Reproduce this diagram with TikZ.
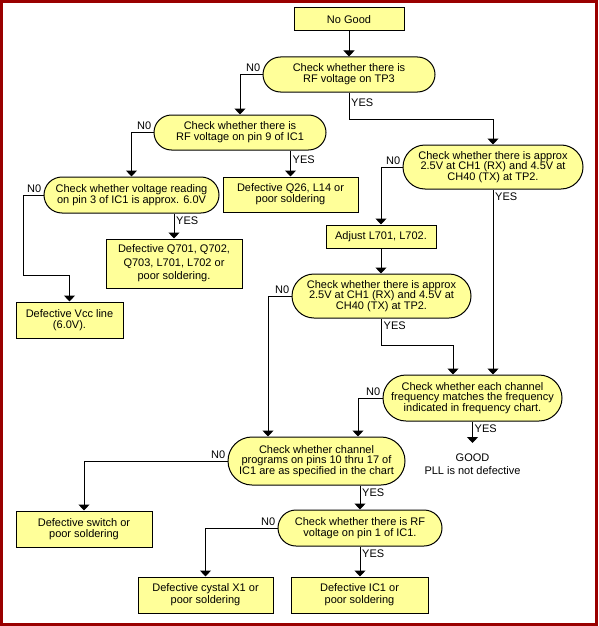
\documentclass[tikz,border=0pt]{standalone}
\usepackage{fontspec}
\setmainfont{Liberation Sans}
\usepackage{tikz}
\usetikzlibrary{shapes.misc, arrows.meta}
\definecolor{boxfill}{RGB}{255,255,153}
\definecolor{framered}{RGB}{153,0,0}

\begin{document}
\begin{tikzpicture}[
        x=1pt, y=-1pt,
        every node/.style={font=\fontsize{11}{11}\selectfont},
        check/.style={rounded rectangle, draw=black, line width=1pt, fill=boxfill, align=center, inner sep=0pt},
        % three-line checks are set a little tighter
        checklong/.style={check, font=\fontsize{11}{10.7}\selectfont},
        fault/.style={rectangle, draw=black, line width=1pt, fill=boxfill, align=center, inner sep=0pt},
        nolabel/.style={anchor=south east, inner xsep=2pt, inner ysep=2.5pt},
        yeslabel/.style={anchor=north west, inner xsep=2pt, inner ysep=3pt},
        arrow/.style={line width=1pt, -{Triangle[width=11pt,length=6pt]}}
    ]

    \fill[white] (0,0) rectangle (598,626);
    \useasboundingbox (0,0) rectangle (598,626);

    % Nodes
    \node (nogood) [fault, minimum width=110pt, minimum height=23pt] at (349,19.5) {No Good};
    \node (rfTP3) [check, minimum width=172pt, minimum height=35pt] at (349,74.5) {Check whether there is\\RF voltage on TP3};
    \node (rfPin9) [check, minimum width=172pt, minimum height=35pt] at (240,132.5) {Check whether there is\\RF voltage on pin 9 of IC1};
    \node (vPin3) [check, minimum width=175pt, minimum height=36pt] at (131.5,195) {Check whether voltage reading\\on pin 3 of IC1 is approx. 6.0V};
    \node (defQ26) [fault, minimum width=135pt, minimum height=35pt] at (290.5,194.5) {Defective Q26, L14 or\\poor soldering};
    \node (defQ701) [fault, minimum width=136pt, minimum height=49pt, font=\fontsize{11}{13.5}\selectfont] at (174,263.5) {Defective Q701, Q702,\\Q703, L701, L702 or\\poor soldering.};
    \node (defVcc) [fault, minimum width=107pt, minimum height=36pt] at (69.5,320) {Defective Vcc line\\(6.0V).};
    \node (tp2First) [checklong, minimum width=180pt, minimum height=44pt] at (493,167) {Check whether there is approx\\2.5V at CH1 (RX) and 4.5V at\\CH40 (TX) at TP2.};
    \node (adjust) [fault, minimum width=110pt, minimum height=23pt] at (381,236.5) {Adjust L701, L702.};
    \node (tp2Again) [checklong, minimum width=179pt, minimum height=44pt] at (381.5,296) {Check whether there is approx\\2.5V at CH1 (RX) and 4.5V at\\CH40 (TX) at TP2.};
    \node (freq) [checklong, minimum width=179pt, minimum height=46pt] at (472.5,398) {Check whether each channel\\frequency matches the frequency\\indicated in frequency chart.};
    \node (good) [anchor=north, inner sep=1pt, align=center, font=\fontsize{11}{12.5}\selectfont] at (472.5,453) {GOOD\\PLL is not defective};
    \node (prog) [checklong, minimum width=177pt, minimum height=48pt] at (316.5,461) {Check whether channel\\programs on pins 10 thru 17 of\\IC1 are as specified in the chart};
    \node (defSwitch) [fault, minimum width=136pt, minimum height=36pt] at (84,529) {Defective switch or\\poor soldering};
    \node (rfPin1) [check, minimum width=164pt, minimum height=36pt] at (360,528) {Check whether there is RF\\voltage on pin 1 of IC1.};
    \node (defX1) [fault, minimum width=135pt, minimum height=36pt, font=\fontsize{11}{12}\selectfont] at (205.5,595) {Defective cystal X1 or\\poor soldering};
    \node (defIC1) [fault, minimum width=137pt, minimum height=36pt, font=\fontsize{11}{12}\selectfont] at (359.5,595) {Defective IC1 or\\poor soldering};

    % Arrows
    \draw [arrow] (nogood) -- (rfTP3);
    \draw [arrow] (rfTP3.west) -| (rfPin9.north);
    \draw [arrow] (rfTP3.south) -- ++(0,26.5) -| (tp2First.north);
    \draw [arrow] (rfPin9.west) -| (vPin3.north);
    \draw [arrow] (defQ26.north |- rfPin9.south) -- (defQ26.north);
    \draw [arrow] (vPin3.west) -- ++(-20,0) -- ++(0,80) -| (defVcc.north);
    \draw [arrow] (defQ701.north |- vPin3.south) -- (defQ701.north);
    \draw [arrow] (tp2First.west) -| (adjust.north);
    \draw [arrow] (adjust.south) -- (adjust.south |- tp2Again.north);
    \draw [arrow] (tp2First.south) -- (tp2First.south |- freq.north);
    \draw [arrow] (tp2Again.south) -- ++(0,27) -| ([xshift=-19.5pt]freq.north);
    \draw [arrow] (tp2Again.west) -| ([xshift=-48.5pt]prog.north);
    \draw [arrow] (freq.west) -| ([xshift=41.5pt]prog.north);
    \draw [arrow] (freq.south) -- ([yshift=10pt]good.north);
    \draw [arrow] (prog.west) -| (defSwitch.north);
    \draw [arrow] (rfPin1.north |- prog.south) -- (rfPin1.north);
    \draw [arrow] (rfPin1.west) -| (defX1.north);
    \draw [arrow] (rfPin1.south) -- (rfPin1.south |- defIC1.north);

    % Branch labels
    \node [nolabel] at (rfTP3.west) {N0};
    \node [yeslabel, yshift=-3pt] at (rfTP3.south) {YES};
    \node [nolabel] at (rfPin9.west) {N0};
    \node [yeslabel, yshift=-2pt] at (defQ26.north |- rfPin9.south) {YES};
    \node [nolabel] at (vPin3.west) {N0};
    \node [yeslabel] at (defQ701.north |- vPin3.south) {YES};
    \node [nolabel] at (tp2First.west) {N0};
    \node [yeslabel] at (tp2First.south) {YES};
    \node [nolabel] at (tp2Again.west) {N0};
    \node [yeslabel] at (tp2Again.south) {YES};
    \node [nolabel] at (freq.west) {N0};
    \node [yeslabel] at (freq.south) {YES};
    \node [nolabel] at (prog.west) {N0};
    \node [yeslabel] at (rfPin1.north |- prog.south) {YES};
    \node [nolabel] at (rfPin1.west) {N0};
    \node [yeslabel] at (rfPin1.south) {YES};

    % Frame
    \draw [framered, line width=3pt] (1.5,1.5) rectangle (596.5,624.5);

\end{tikzpicture}
\end{document}
